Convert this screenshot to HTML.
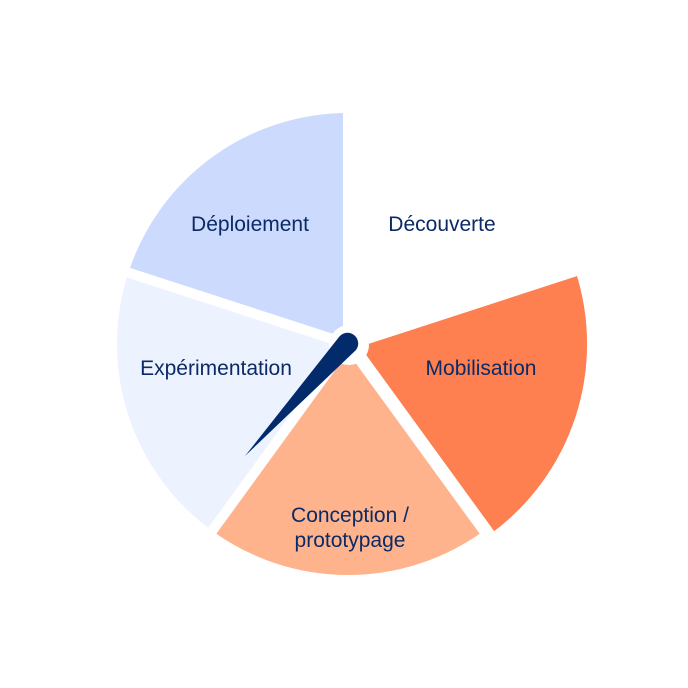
<!DOCTYPE html>
<html><head><meta charset="utf-8"><style>
html,body{margin:0;padding:0;background:#fff;}
svg{display:block;}
text{font-family:"Liberation Sans",sans-serif;font-size:21px;fill:#0b2a66;text-anchor:middle;}
</style></head><body>
<svg width="688" height="688" viewBox="0 0 688 688">
<g stroke="#fff" stroke-width="10" stroke-linejoin="round">
<path d="M348,344 L348,108 A236,236 0 0 0 123.6,271.1 Z" fill="#ccdafe"/>
<path d="M348,344 L123.6,271.1 A236,236 0 0 0 209.3,534.9 Z" fill="#edf2ff"/>
<path d="M348,344 L209.3,534.9 A236,236 0 0 0 486.7,534.9 Z" fill="#feb38c"/>
<path d="M352,344 L580.3,269.8 A240,240 0 0 1 493.1,538.2 Z" fill="#fe7f50"/>
</g>
<circle cx="349" cy="345" r="20" fill="#fff"/>
<path d="M339,337 A10,10 0 0 1 356,350 L245,456 Z" fill="#032a6b"/>
<text x="250" y="231">Déploiement</text>
<text x="442" y="231">Découverte</text>
<text x="216" y="375">Expérimentation</text>
<text x="481" y="375">Mobilisation</text>
<text x="350" y="522">Conception /</text>
<text x="350" y="547">prototypage</text>
</svg>
</body></html>
